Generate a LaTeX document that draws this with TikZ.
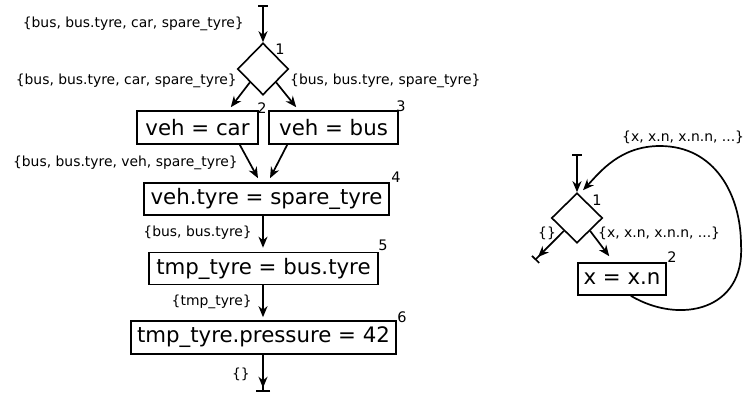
\documentclass[tikz,border=0pt]{standalone}
\usepackage{fontspec}
\setmainfont{DejaVu Sans}
\usetikzlibrary{arrows.meta,shapes.geometric}
\tikzset{
  stmt/.style={draw, line width=1.6pt, font=\fontsize{21.3}{24}\selectfont,
    inner sep=0pt, minimum height=33pt},
  cond/.style={draw, diamond, line width=1.6pt, minimum width=51pt,
    minimum height=52pt, inner sep=0pt},
  flow/.style={line width=1.7pt, -{Stealth[length=11pt,width=9pt,inset=3.5pt]}},
  entry/.style={line width=1.7pt,
    {Bar[width=10pt]}-{Stealth[length=11pt,width=9pt,inset=3.5pt]}},
  exit/.style={line width=1.7pt,
    -{Stealth[length=11pt,width=9pt,inset=3.5pt,sep=2.5pt] Bar[width=#1]}},
  exit/.default=14pt,
  lbl/.style={font=\fontsize{13.9}{16}\selectfont, inner sep=0pt},
  num/.style={font=\fontsize{14.5}{16}\selectfont, inner sep=0pt},
}
\begin{document}
\begin{tikzpicture}[x=1pt,y=-1pt]
\useasboundingbox (0,0) rectangle (744,394);

% ---------- left flow graph ----------
\coordinate (s1) at (263,5);
\node[cond] (d1) at (263,69) {};
\node[stmt, minimum width=121pt] (car) at (197.5,127.5) {veh = car};
\node[stmt, minimum width=129pt] (bus) at (333.5,127.5) {veh = bus};
\node[stmt, minimum width=245pt, minimum height=32pt] (tyre) at (266.5,199) {veh.tyre = spare\_tyre};
\node[stmt, minimum width=229pt, minimum height=32pt] (tmp) at (263.5,268.5) {tmp\_tyre = bus.tyre};
\node[stmt, minimum width=265pt] (press) at (263.5,337.5) {tmp\_tyre.pressure = 42};
\coordinate (e1) at (263,392);

\node[num] (n1) at (280,49) {1};
\node[num] (n2) at (262,108) {2};
\node[num] (n3) at (401,106) {3};
\node[num] (n4) at (396,177) {4};
\node[num] (n5) at (383,245) {5};
\node[num] (n6) at (402,317) {6};

\draw[entry] (s1) -- (d1.north);
\draw[flow] (d1.south west) -- ([xshift=-28pt,yshift=3pt]car.north east);
\draw[flow] (d1.south east) -- ([xshift=28pt,yshift=3pt]bus.north west);
\draw[flow] ([xshift=-19pt]car.south east) -- ([xshift=-8.5pt,yshift=4pt]tyre.north);
\draw[flow] ([xshift=19pt]bus.south west) -- ([xshift=3.5pt,yshift=4pt]tyre.north);
\draw[flow] (tyre.south -| d1.center) -- ([yshift=4pt]tmp.north -| d1.center);
\draw[flow] (tmp.south -| d1.center) -- ([yshift=3pt]press.north -| d1.center);
\draw[exit] (press.south -| d1.center) -- (e1);

\node[lbl, anchor=east] (l1) at (244,24) {\{bus, bus.tyre, car, spare\_tyre\}};
\node[lbl, anchor=east] (l2) at (237,81) {\{bus, bus.tyre, car, spare\_tyre\}};
\node[lbl, anchor=west] (l3) at (290,81) {\{bus, bus.tyre, spare\_tyre\}};
\node[lbl, anchor=east] (l4) at (238,163) {\{bus, bus.tyre, veh, spare\_tyre\}};
\node[lbl, anchor=east] (l5) at (252,233) {\{bus, bus.tyre\}};
\node[lbl, anchor=east] (l6) at (252,302) {\{tmp\_tyre\}};
\node[lbl, anchor=east] (l7) at (250,374) {\{\}};

% ---------- right flow graph (loop) ----------
\coordinate (s2) at (577,154);
\node[cond, minimum width=51pt, minimum height=50pt] (d2) at (577,218) {};
\node[stmt, minimum width=88pt, minimum height=32pt] (xn) at (622,279) {x = x.n};
\coordinate (e2) at (535,260);

\node[num] (m1) at (597,200) {1};
\node[num] (m2) at (672,257) {2};

\draw[entry] (s2) -- (d2.north);
\draw[exit=10pt] (d2.south west) -- (e2);
\draw[flow] (d2.south east) -- ([xshift=32pt,yshift=6pt]xn.north west);
\draw[flow] ([xshift=-36pt]xn.south east)
  .. controls (680,325) and (745,310) .. (741,245)
  .. controls (741,195) and (715,146) .. (660,146)
  .. controls (620,146) and (600,172) .. ([xshift=6pt,yshift=2pt]d2.north);

\node[lbl] (k1) at (547,233) {\{\}};
\node[lbl, anchor=west] (k2) at (598,233) {\{x, x.n, x.n.n, ...\}};
\node[lbl, anchor=west] (k3) at (622,137) {\{x, x.n, x.n.n, ...\}};
\end{tikzpicture}
\end{document}
